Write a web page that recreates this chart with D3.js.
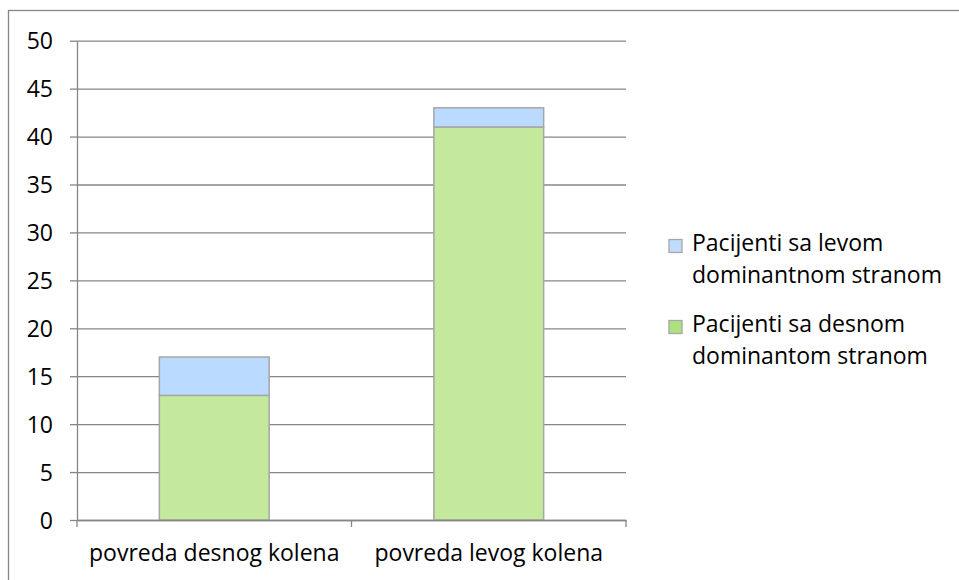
<!DOCTYPE html>
<html>
<head>
<meta charset="utf-8">
<script src="https://cdn.jsdelivr.net/npm/d3@7"></script>
<style>
  body { margin: 0; background: #fff; }
  svg { display: block; font-family: "Open Sans", sans-serif; }
</style>
</head>
<body>
<div class="chart"></div>
<script>
var categories = [`povreda desnog kolena`, `povreda levog kolena`];
var seriesNames = [`Pacijenti sa desnom dominantom stranom`, `Pacijenti sa levom dominantnom stranom`];
var desnomValues = [13, 41];
var levomValues = [4, 2];
var yTicks = [0, 5, 10, 15, 20, 25, 30, 35, 40, 45, 50];

var fullWidth = 959, fullHeight = 580;
var plot = {left: 77, right: 626, top: 40.7, bottom: 520};
var fontSize = 23;
var gray = `#868686`;

var svg = d3.select(`.chart`)
    .append(`svg`)
    .attr(`width`, fullWidth)
    .attr(`height`, fullHeight)
    .attr(`viewBox`, `0 0 ${fullWidth} ${fullHeight}`);

// outer chart frame (runs off the right and bottom edges)
svg.append(`rect`)
    .attr(`x`, 8.5)
    .attr(`y`, 10.5)
    .attr(`width`, fullWidth)
    .attr(`height`, fullHeight)
    .style(`fill`, `none`)
    .style(`stroke`, gray)
    .style(`stroke-width`, 1.3);

var xScale = d3.scaleBand()
    .domain(categories)
    .range([plot.left, plot.right]);

var yScale = d3.scaleLinear()
    .domain([0, 50])
    .range([plot.bottom, plot.top]);

// gridlines
svg.append(`g`)
    .attr(`transform`, `translate(${plot.left},0)`)
    .call(d3.axisLeft(yScale).tickValues(yTicks).tickSize(-(plot.right - plot.left)).tickFormat(``))
    .call(g => g.select(`.domain`).remove())
    .call(g => g.selectAll(`line`).style(`stroke`, gray).style(`stroke-width`, 1.3));

var series = [
    {name: seriesNames[0], values: desnomValues, fill: `#c4e99c`, swatch: `#ade27f`},
    {name: seriesNames[1], values: levomValues, fill: `#badaff`, swatch: `#bfdcfd`}
];

var stack = d3.stack().keys([0, 1]).value((d, k) => series[k].values[d]);
var stacked = stack(d3.range(categories.length));
var barWidth = xScale.bandwidth() * 0.4;

svg.selectAll(`.layer`)
    .data(stacked)
    .enter()
    .append(`g`)
    .attr(`class`, `layer`)
    .style(`fill`, (d, i) => series[i].fill)
    .selectAll(`rect`)
    .data(d => d)
    .enter()
    .append(`rect`)
    .attr(`x`, d => xScale(categories[d.data]) + (xScale.bandwidth() - barWidth) / 2)
    .attr(`y`, d => yScale(d[1]))
    .attr(`width`, barWidth)
    .attr(`height`, d => yScale(d[0]) - yScale(d[1]))
    .style(`stroke`, `#a6a6a6`)
    .style(`stroke-width`, 1.5);

// y axis
var yAxis = svg.append(`g`)
    .attr(`transform`, `translate(${plot.left},0)`)
    .call(d3.axisLeft(yScale).tickValues(yTicks).tickSize(7).tickSizeOuter(0).tickPadding(17));
yAxis.selectAll(`line, path`).style(`stroke`, gray).style(`stroke-width`, 1.3);
yAxis.selectAll(`text`)
    .style(`font-size`, `${fontSize}px`)
    .style(`font-family`, `"Open Sans", sans-serif`)
    .style(`fill`, `#000`)
    .attr(`dy`, `0.36em`);

// x axis
var xAxis = svg.append(`g`)
    .attr(`transform`, `translate(0,${plot.bottom})`)
    .call(d3.axisBottom(xScale).tickSize(0).tickSizeOuter(0).tickPadding(25));
xAxis.select(`.domain`).style(`stroke`, gray).style(`stroke-width`, 1.3);
xAxis.selectAll(`text`)
    .style(`font-size`, `${fontSize}px`)
    .style(`font-family`, `"Open Sans", sans-serif`)
    .style(`fill`, `#000`);

var boundaries = categories.map(c => xScale(c)).concat([xScale.range()[1]]);
xAxis.selectAll(`.boundary`)
    .data(boundaries)
    .enter()
    .append(`line`)
    .attr(`class`, `boundary`)
    .attr(`x1`, d => d)
    .attr(`x2`, d => d)
    .attr(`y1`, 0)
    .attr(`y2`, 7)
    .style(`stroke`, gray)
    .style(`stroke-width`, 1.3);

// legend, top series first
var legendItems = series.slice().reverse();
var legendTops = [250.5, 331.5];
var lineGap = 32.5;

var legend = svg.selectAll(`.legend`)
    .data(legendItems)
    .enter()
    .append(`g`)
    .attr(`class`, `legend`)
    .attr(`transform`, (d, i) => `translate(669,${legendTops[i]})`);

legend.append(`rect`)
    .attr(`x`, 0)
    .attr(`y`, -11)
    .attr(`width`, 13)
    .attr(`height`, 13)
    .style(`fill`, d => d.swatch)
    .style(`stroke`, `#a6a6a6`)
    .style(`stroke-width`, 1.3);

legend.each(function(d) {
    var g = d3.select(this);
    var words = d.name.split(` `);
    var lines = [];
    var current = ``;
    var probe = g.append(`text`).style(`font-size`, `${fontSize}px`);
    words.forEach(w => {
        var test = current ? current + ` ` + w : w;
        probe.text(test);
        if (current && probe.node().getComputedTextLength() > 255) {
            lines.push(current);
            current = w;
        } else {
            current = test;
        }
    });
    lines.push(current);
    probe.remove();
    g.selectAll(`.label`)
        .data(lines)
        .enter()
        .append(`text`)
        .attr(`class`, `label`)
        .attr(`x`, 23)
        .attr(`y`, (l, i) => i * lineGap)
        .style(`font-size`, `${fontSize}px`)
        .style(`fill`, `#000`)
        .text(l => l);
});
</script>
</body>
</html>
